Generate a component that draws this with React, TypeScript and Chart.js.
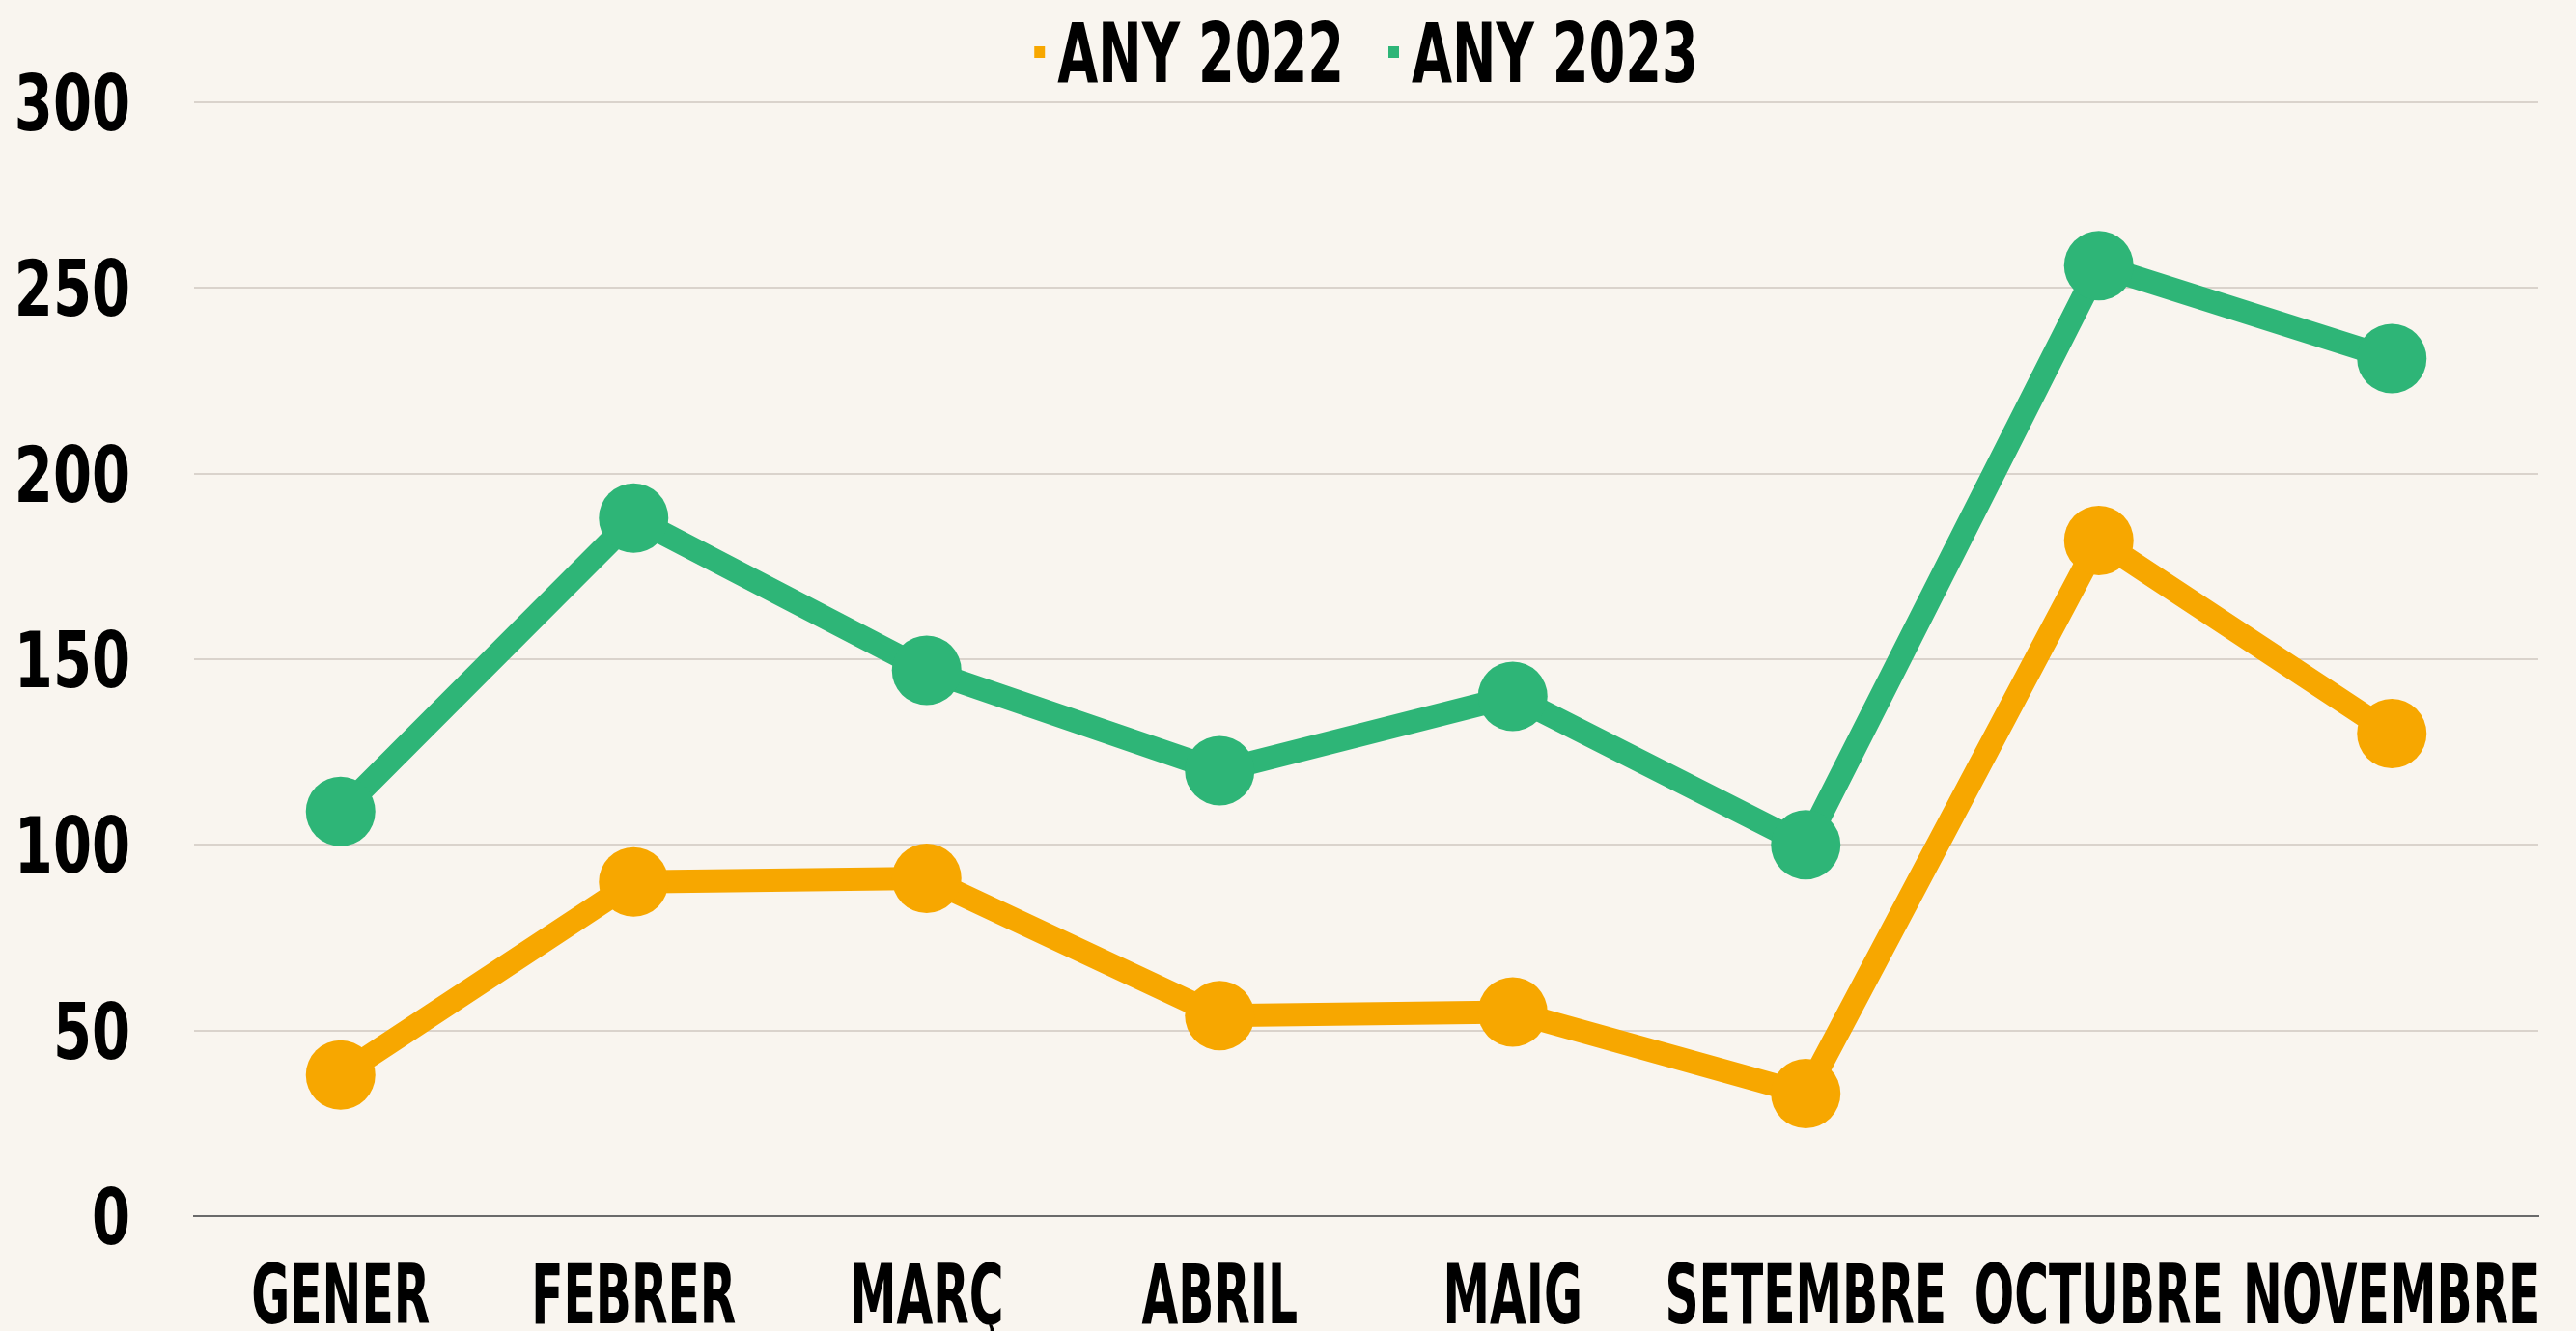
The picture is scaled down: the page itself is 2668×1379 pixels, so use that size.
import React, { useEffect, useRef } from "react";
import { Chart, registerables } from "chart.js";

Chart.register(...registerables);

const months = ["GENER", "FEBRER", "MARÇ", "ABRIL", "MAIG", "SETEMBRE", "OCTUBRE", "NOVEMBRE"];
const any2022 = [38, 90, 91, 54, 55, 33, 182, 130];
const any2023 = [109, 188, 147, 120, 140, 100, 256, 231];
const seriesNames = ["ANY 2022", "ANY 2023"];
const yTicks = [0, 50, 100, 150, 200, 250, 300];

const ORANGE = "#F7A700";
const GREEN = "#2EB577";
const BG = "#F9F5EF";
const FONT = "'DejaVu Sans Condensed', 'DejaVu Sans', sans-serif";

// Draws condensed tick labels and legend as canvas text, positioned by the chart's scales.
const condensedText = {
  id: "condensedText",
  afterDraw(chart: any) {
    const ctx = chart.ctx as CanvasRenderingContext2D;
    const area = chart.chartArea;
    const xs = chart.scales.x;
    const ys = chart.scales.y;
    ctx.save();
    ctx.fillStyle = "#000";
    ctx.textBaseline = "alphabetic";

    // x labels
    const xScale = 0.63;
    ctx.font = `bold 86px ${FONT}`;
    ctx.textAlign = "center";
    (chart.data.labels as string[]).forEach((lab, i) => {
      const px = xs.getPixelForTick(i);
      ctx.save();
      ctx.translate(px, area.bottom + 111);
      ctx.scale(xScale, 1);
      ctx.fillText(lab, 0, 0);
      ctx.restore();
    });

    // y labels
    const yScale = 0.8;
    ctx.font = `bold 80px ${FONT}`;
    ctx.textAlign = "right";
    yTicks.forEach((v) => {
      const py = ys.getPixelForValue(v);
      ctx.save();
      ctx.translate(area.left - 66, py + 29);
      ctx.scale(yScale, 1);
      ctx.fillText(String(v), 0, 0);
      ctx.restore();
    });

    // legend
    const lScale = 0.71;
    ctx.font = `bold 85px ${FONT}`;
    ctx.textAlign = "left";
    const ds = chart.data.datasets;
    const widths = ds.map((d: any) => ctx.measureText(d.label).width * lScale);
    const box = 11, gap = 13, itemGap = 46;
    const total = widths.reduce((a: number, w: number) => a + box + gap + w, 0) + itemGap * (ds.length - 1);
    let x = (area.left + area.right) / 2 - total / 2;
    ds.forEach((d: any, i: number) => {
      ctx.fillStyle = d.borderColor;
      ctx.fillRect(x, 48, box, 12);
      x += box + gap;
      ctx.fillStyle = "#000";
      ctx.save();
      ctx.translate(x, 85);
      ctx.scale(lScale, 1);
      ctx.fillText(d.label, 0, 0);
      ctx.restore();
      x += widths[i] + itemGap;
    });
    ctx.restore();
  },
};

export default function App() {
  const ref = useRef<HTMLCanvasElement | null>(null);

  useEffect(() => {
    if (!ref.current) return;
    const colors = [ORANGE, GREEN];
    const chart = new Chart(ref.current, {
      type: "line",
      data: {
        labels: months,
        datasets: [any2022, any2023].map((d, i) => ({
          label: seriesNames[i],
          data: d,
          borderColor: colors[i],
          backgroundColor: colors[i],
          pointBackgroundColor: colors[i],
          pointBorderWidth: 0,
          pointRadius: 36,
          borderWidth: 24,
          tension: 0,
        })),
      },
      options: {
        animation: false,
        responsive: true,
        maintainAspectRatio: false,
        devicePixelRatio: 1,
        layout: { padding: { left: 201, right: 39, bottom: 119, top: 106 } },
        plugins: {
          tooltip: { enabled: false },
          legend: { display: false },
        },
        scales: {
          x: {
            offset: true,
            grid: { display: false, drawTicks: false },
            border: { display: true, color: "#6a6a6a", width: 2 },
            ticks: { display: false },
          },
          y: {
            min: 0,
            max: 300,
            afterBuildTicks: (axis: any) => {
              axis.ticks = yTicks.map((v) => ({ value: v }));
            },
            grid: { color: "#DAD3CC", lineWidth: 2, drawTicks: false },
            border: { display: false },
            ticks: { display: false },
          },
        },
      },
      plugins: [condensedText],
    });
    return () => chart.destroy();
  }, []);

  return (
    <div style={{ position: "fixed", left: 0, top: 0, width: "100vw", height: "100vh", background: BG }}>
      <canvas ref={ref} />
    </div>
  );
}
